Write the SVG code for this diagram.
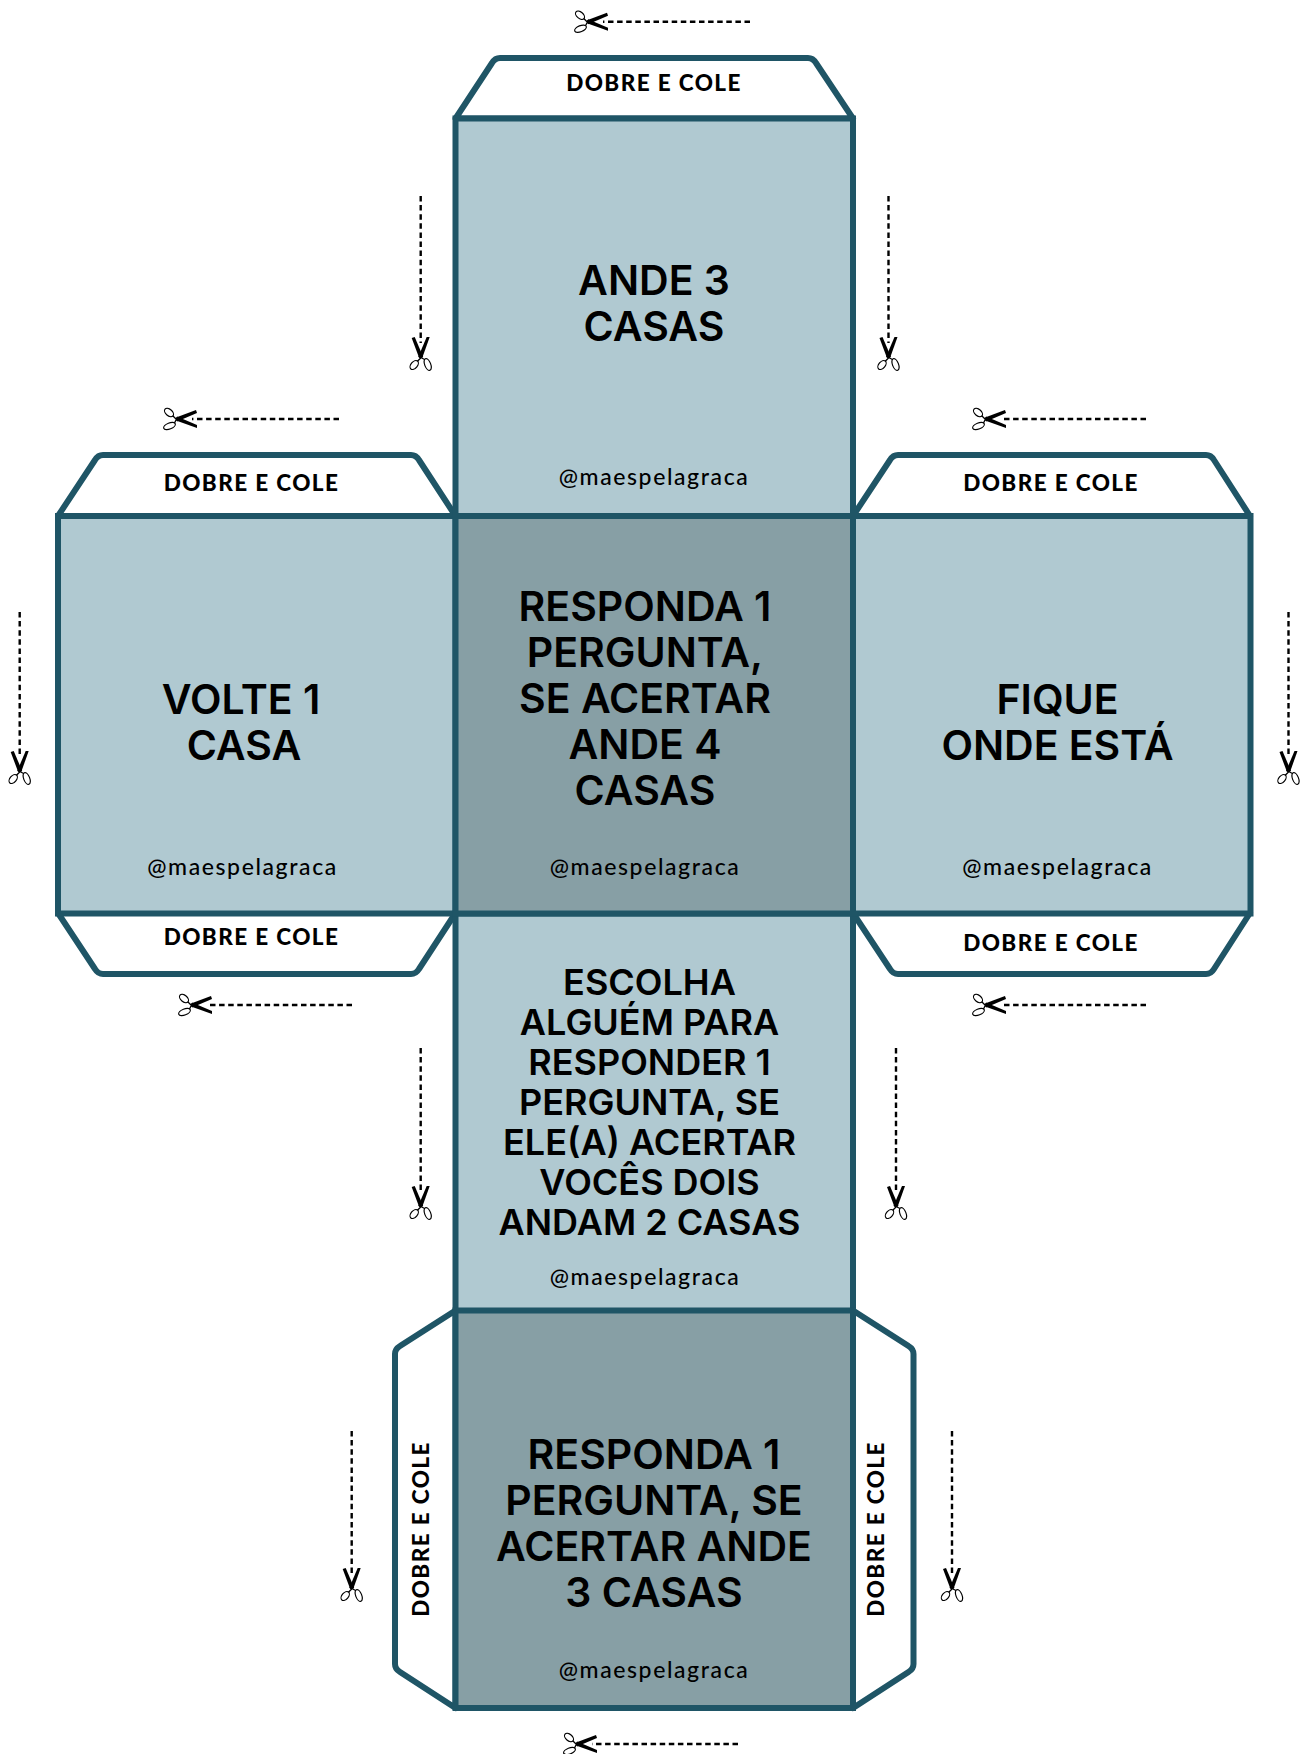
<svg xmlns="http://www.w3.org/2000/svg" width="1308" height="1754" viewBox="0 0 1308 1754">
<style>
.face{stroke:#1f5566;stroke-width:6;stroke-linejoin:miter}
.lt{fill:#b0c9d1}.dk{fill:#879fa5}
.tab{fill:#fff;stroke:#1f5566;stroke-width:6;stroke-linejoin:round}
text{font-family:Inter,"Liberation Sans",sans-serif;fill:#000;text-anchor:middle}
.big{font-size:41px;font-weight:600}
.mid{font-size:36px;font-weight:600}
.tag{font-family:Lato,"Liberation Sans",sans-serif;font-size:23px;font-weight:500;letter-spacing:1.600px}
.fold{font-family:Lato,"Liberation Sans",sans-serif;font-size:22.500px;font-weight:900;letter-spacing:1.400px}
.cut{stroke:#000;stroke-width:2.400;stroke-dasharray:5.500 3.600;fill:none}
</style>
<defs>
<g id="sc">
<path d="M19 -9L-1 -1.500 0 2.500 20 -6Z" fill="#000"/>
<path d="M20 9L-1 1.500 0 -2.500 20 6Z" fill="#000"/>
<path d="M0 1L-5 -4M0 -1L-3 5" stroke="#000" stroke-width="1.300" fill="none"/>
<ellipse cx="-8" cy="-6.500" rx="5.200" ry="3.200" transform="rotate(40 -8 -6.500)" fill="#fff" stroke="#000" stroke-width="1.200"/>
<ellipse cx="-7.500" cy="7" rx="6.200" ry="3" transform="rotate(-22 -7.500 7)" fill="#fff" stroke="#000" stroke-width="1.200"/>
</g>
</defs>
<g id="tab-top"><path class="tab" d="M455.500 118.500L492 63Q495 58 500 58H808Q813 58 816 63L853 118.500Z"/><text class="fold" x="654" y="91">DOBRE E COLE</text></g>
<g id="tab-left-top"><path class="tab" d="M58 516L95 460Q98 455 103 455H411Q416 455 419 460L455.500 516Z"/><text class="fold" x="251.500" y="491">DOBRE E COLE</text></g>
<g id="tab-right-top"><path class="tab" d="M853 516L890 460Q893 455 898 455H1206Q1211 455 1214 460L1250 516Z"/><text class="fold" x="1051" y="491">DOBRE E COLE</text></g>
<g id="tab-left-bottom"><path class="tab" d="M58 913L95 969Q98 974 103 974H411Q416 974 419 969L455.500 913Z"/><text class="fold" x="251.500" y="945">DOBRE E COLE</text></g>
<g id="tab-right-bottom"><path class="tab" d="M853 913L890 969Q893 974 898 974H1206Q1211 974 1214 969L1250 913Z"/><text class="fold" x="1051" y="951">DOBRE E COLE</text></g>
<g id="tab-bottom-left"><path class="tab" d="M455.500 1310.500L400 1346Q395 1349 395 1354V1664Q395 1669 400 1672L455.500 1708Z"/><text class="fold" transform="translate(428.500 1529) rotate(-90)">DOBRE E COLE</text></g>
<g id="tab-bottom-right"><path class="tab" d="M853 1310.500L908.500 1346Q913.500 1349 913.500 1354V1664Q913.500 1669 908.500 1672L853 1708Z"/><text class="fold" transform="translate(883.500 1529) rotate(-90)">DOBRE E COLE</text></g>
<g id="face-top"><rect class="face lt" x="455.500" y="118.500" width="397.500" height="397.500"/>
<text class="big" x="654" y="295">ANDE 3</text><text class="big" x="654" y="340.500">CASAS</text><text class="tag" x="654" y="484.500">@maespelagraca</text></g>
<g id="face-left"><rect class="face lt" x="58" y="516" width="397.500" height="397.500"/>
<text class="big" x="241" y="713.500">VOLTE 1</text><text class="big" x="244" y="759.500">CASA</text><text class="tag" x="242.500" y="875">@maespelagraca</text></g>
<g id="face-right"><rect class="face lt" x="853" y="516" width="397.500" height="397.500"/>
<text class="big" x="1057.500" y="713.500">FIQUE</text><text class="big" x="1057.500" y="759.500">ONDE ESTÁ</text><text class="tag" x="1057.500" y="875">@maespelagraca</text></g>
<g id="face-south"><rect class="face lt" x="455.500" y="913.500" width="397.500" height="397.500"/>
<text class="mid" x="649.500" y="994.500">ESCOLHA</text><text class="mid" x="649.500" y="1034.500">ALGUÉM PARA</text><text class="mid" x="649.500" y="1074.500">RESPONDER 1</text><text class="mid" x="649.500" y="1114.500">PERGUNTA, SE</text><text class="mid" x="649.500" y="1154.500">ELE(A) ACERTAR</text><text class="mid" x="649.500" y="1194.500">VOCÊS DOIS</text><text class="mid" x="649.500" y="1234.500">ANDAM 2 CASAS</text><text class="tag" x="645" y="1284.500">@maespelagraca</text></g>
<g id="face-center"><rect class="face dk" x="455.500" y="516" width="397.500" height="397.500"/>
<text class="big" x="645" y="621">RESPONDA 1</text><text class="big" x="645" y="667">PERGUNTA,</text><text class="big" x="645" y="713">SE ACERTAR</text><text class="big" x="645" y="759">ANDE 4</text><text class="big" x="645" y="804.500">CASAS</text><text class="tag" x="645" y="875">@maespelagraca</text></g>
<g id="face-bottom"><rect class="face dk" x="455.500" y="1310.500" width="397.500" height="397.500"/>
<text class="big" x="654" y="1469">RESPONDA 1</text><text class="big" x="654" y="1515">PERGUNTA, SE</text><text class="big" x="654" y="1561">ACERTAR ANDE</text><text class="big" x="654" y="1607">3 CASAS</text><text class="tag" x="654" y="1677.500">@maespelagraca</text></g>
<g id="connectors">
<path class="cut" d="M750 21.700H603M339 419H192M1146 419H1001M352 1005H207M1146 1005H1001M738 1744H592"/>
<path class="cut" d="M420.700 196V343M888.500 196V343M19.700 612V757M1288.500 612V757M420.700 1048V1192M896 1048V1192M351.700 1431V1574M952 1431V1574"/>
<use href="#sc" transform="translate(588 21.700)"/><use href="#sc" transform="translate(177 419)"/><use href="#sc" transform="translate(986 419)"/><use href="#sc" transform="translate(192 1005)"/><use href="#sc" transform="translate(986 1005)"/><use href="#sc" transform="translate(577 1744)"/>
<use href="#sc" transform="translate(420.700 357) rotate(-90)"/><use href="#sc" transform="translate(888.500 357) rotate(-90)"/><use href="#sc" transform="translate(19.700 771) rotate(-90)"/><use href="#sc" transform="translate(1288.500 771) rotate(-90)"/><use href="#sc" transform="translate(420.700 1206) rotate(-90)"/><use href="#sc" transform="translate(896 1206) rotate(-90)"/><use href="#sc" transform="translate(351.700 1588) rotate(-90)"/><use href="#sc" transform="translate(952 1588) rotate(-90)"/>
</g>
</svg>
